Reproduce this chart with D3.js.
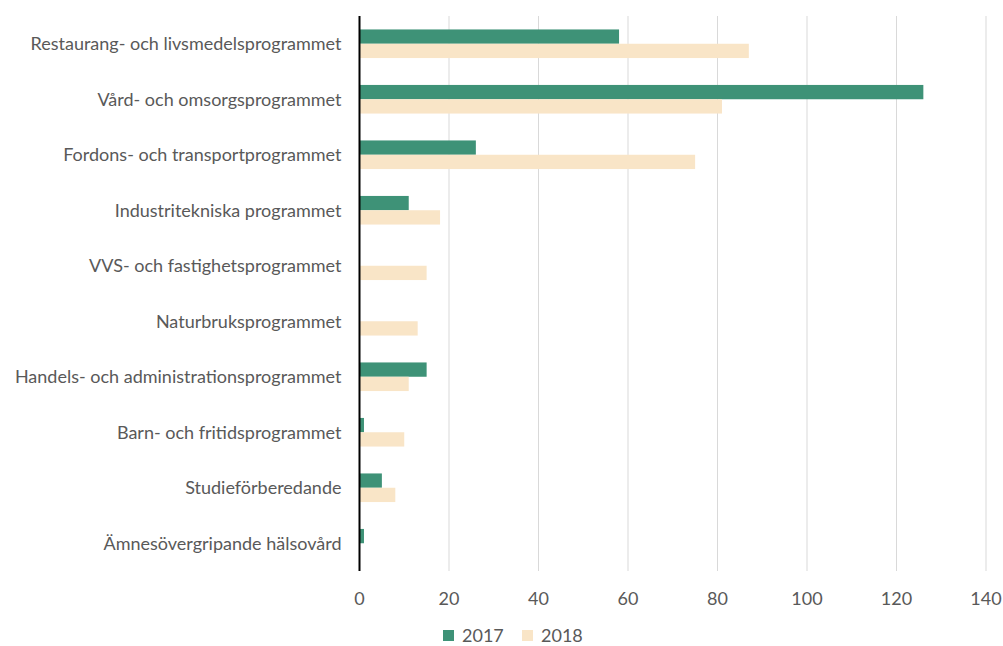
<!DOCTYPE html>
<html>
<head>
<meta charset="utf-8">
<script src="https://cdn.jsdelivr.net/npm/d3@7"></script>
<style>
  body { margin: 0; background: #fff; }
  text { font-family: Lato, "Open Sans", sans-serif; }
</style>
</head>
<body>
<svg></svg>
<script>
// Chart size matches the window.
var width = 1003,
    height = 646;

var margin = { top: 16, right: 17, bottom: 75, left: 359.5 };

var categories = [
  "Restaurang- och livsmedelsprogrammet",
  "Vård- och omsorgsprogrammet",
  "Fordons- och transportprogrammet",
  "Industritekniska programmet",
  "VVS- och fastighetsprogrammet",
  "Naturbruksprogrammet",
  "Handels- och administrationsprogrammet",
  "Barn- och fritidsprogrammet",
  "Studieförberedande",
  "Ämnesövergripande hälsovård"
];

var years = ["2017", "2018"];
var values2017 = [58, 126, 26, 11, 0, 0, 15, 1, 5, 1];
var values2018 = [87, 81, 75, 18, 15, 13, 11, 10, 8, 0];
var xTicks = [0, 20, 40, 60, 80, 100, 120, 140];

var colors = { "2017": "#3e9277", "2018": "#f9e5c7" };

var svg = d3.select("svg")
    .attr("width", width)
    .attr("height", height);

var x = d3.scaleLinear()
    .domain([0, 140])
    .range([margin.left, width - margin.right]);

var y = d3.scaleBand()
    .domain(categories)
    .range([margin.top, height - margin.bottom]);

// two bars inside each category band
var ySub = d3.scaleBand()
    .domain(years)
    .range([0, y.bandwidth()])
    .paddingOuter(0.94);

// gridlines
svg.append("g")
  .selectAll("line")
    .data(xTicks.slice(1))
  .enter().append("line")
    .attr("x1", function(d) { return x(d); })
    .attr("x2", function(d) { return x(d); })
    .attr("y1", margin.top)
    .attr("y2", height - margin.bottom)
    .attr("stroke", "#d9d9d9")
    .attr("stroke-width", 1);

var rows = categories.map(function(c, i) {
  return { cat: c, "2017": values2017[i], "2018": values2018[i] };
});

var groups = svg.append("g")
  .selectAll("g")
    .data(rows)
  .enter().append("g")
    .attr("transform", function(d) { return "translate(0," + y(d.cat) + ")"; });

groups.selectAll("rect")
    .data(function(d) { return years.map(function(yr) { return { year: yr, value: d[yr] }; }); })
  .enter().append("rect")
    .attr("x", x(0))
    .attr("y", function(d) { return ySub(d.year); })
    .attr("width", function(d) { return x(d.value) - x(0); })
    .attr("height", ySub.bandwidth())
    .attr("fill", function(d) { return colors[d.year]; });

// category labels
svg.append("g")
  .selectAll("text")
    .data(categories)
  .enter().append("text")
    .attr("x", margin.left - 18)
    .attr("y", function(d) { return y(d) + y.bandwidth() / 2; })
    .attr("dy", "0.35em")
    .attr("text-anchor", "end")
    .attr("font-size", 18)
    .attr("fill", "#595959")
    .text(function(d) { return d; });

// vertical axis line
svg.append("line")
    .attr("x1", x(0))
    .attr("x2", x(0))
    .attr("y1", margin.top)
    .attr("y2", height - margin.bottom)
    .attr("stroke", "#000")
    .attr("stroke-width", 2);

// x tick labels
svg.append("g")
  .selectAll("text")
    .data(xTicks)
  .enter().append("text")
    .attr("x", function(d) { return x(d); })
    .attr("y", 605)
    .attr("text-anchor", "middle")
    .attr("font-size", 18)
    .attr("fill", "#595959")
    .text(function(d) { return d; });

// legend
var legend = svg.append("g")
  .selectAll("g")
    .data(years)
  .enter().append("g")
    .attr("transform", function(d, i) { return "translate(" + (443 + i * 79) + ",630)"; });

legend.append("rect")
    .attr("width", 11)
    .attr("height", 11)
    .attr("fill", function(d) { return colors[d]; });

legend.append("text")
    .attr("x", 19)
    .attr("y", 6)
    .attr("dy", "0.35em")
    .attr("font-size", 18)
    .attr("fill", "#595959")
    .text(function(d) { return d; });
</script>
</body>
</html>
